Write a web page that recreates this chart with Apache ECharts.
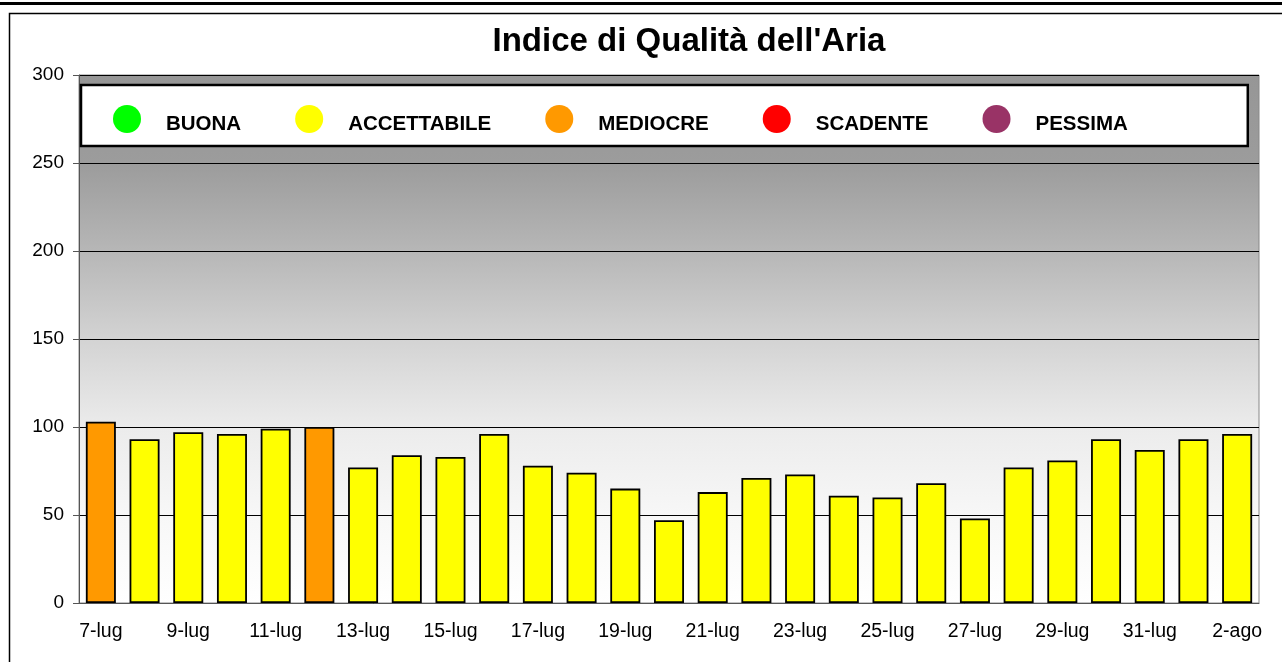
<!DOCTYPE html>
<html>
<head>
<meta charset="utf-8">
<script src="https://cdn.jsdelivr.net/npm/echarts@6/dist/echarts.min.js"></script>
<style>
html,body{margin:0;padding:0;background:#fff;}
#chart{width:1282px;height:662px;}
</style>
</head>
<body>
<div id="chart"></div>
<script>
const categories = ['7-lug','8-lug','9-lug','10-lug','11-lug','12-lug','13-lug','14-lug','15-lug','16-lug','17-lug','18-lug','19-lug','20-lug','21-lug','22-lug','23-lug','24-lug','25-lug','26-lug','27-lug','28-lug','29-lug','30-lug','31-lug','1-ago','2-ago'];
const values = [103, 93, 97, 96, 99, 100, 77, 84, 83, 96, 78, 74, 65, 47, 63, 71, 73, 61, 60, 68, 48, 77, 81, 93, 87, 93, 96];
const levels = ['MEDIOCRE','ACCETTABILE','ACCETTABILE','ACCETTABILE','ACCETTABILE','MEDIOCRE','ACCETTABILE','ACCETTABILE','ACCETTABILE','ACCETTABILE','ACCETTABILE','ACCETTABILE','ACCETTABILE','ACCETTABILE','ACCETTABILE','ACCETTABILE','ACCETTABILE','ACCETTABILE','ACCETTABILE','ACCETTABILE','ACCETTABILE','ACCETTABILE','ACCETTABILE','ACCETTABILE','ACCETTABILE','ACCETTABILE','ACCETTABILE'];
const levelNames = ['BUONA','ACCETTABILE','MEDIOCRE','SCADENTE','PESSIMA'];
const levelColors = ['#00FF00','#FFFF00','#FF9900','#FF0000','#993366'];
const yTicks = [0, 50, 100, 150, 200, 250, 300];
const title = "Indice di Qualità dell'Aria";

const chart = echarts.init(document.getElementById('chart'), null, {renderer: 'canvas'});
const series = levelNames.map((name, k) => ({
  name: name,
  type: 'bar',
  stack: 'iqa',
  barWidth: 30,
  itemStyle: {color: levelColors[k], borderColor: '#000', borderWidth: 1.8},
  data: values.map((v, i) => levels[i] === name ? v : '-')
}));

chart.setOption({
  animation: false,
  title: {
    text: title, left: 684, top: 20, textAlign: 'center',
    textStyle: {fontFamily: 'Liberation Sans, Arial, sans-serif', fontWeight: 'bold', fontSize: 33, color: '#000'}
  },
  legend: {
    data: levelNames,
    left: 81, top: 85,
    icon: 'circle',
    itemWidth: 28, itemHeight: 28,
    itemGap: 54,
    padding: [20, 120, 11, 32],
    backgroundColor: '#fff',
    borderColor: '#000', borderWidth: 2.5,
    itemStyle: {borderWidth: 0},
    selectedMode: false,
    formatter: name => '{t|' + name + '}',
    textStyle: {
      fontFamily: 'Liberation Sans, Arial, sans-serif', fontWeight: 'bold', fontSize: 20.5, color: '#000',
      rich: {t: {fontFamily: 'Liberation Sans, Arial, sans-serif', fontWeight: 'bold', fontSize: 20.5, color: '#000', padding: [11, 0, 0, 20]}}
    }
  },
  grid: {
    left: 79, right: 23, top: 75, bottom: 59,
    show: true,
    borderColor: '#888', borderWidth: 1,
    backgroundColor: {
      type: 'linear', x: 0, y: 0, x2: 0, y2: 1,
      colorStops: [
        {offset: 0, color: '#969696'},
        {offset: 0.17, color: '#9c9c9c'},
        {offset: 0.33, color: '#b6b6b6'},
        {offset: 0.5, color: '#d3d3d3'},
        {offset: 0.67, color: '#ececec'},
        {offset: 0.83, color: '#f7f7f7'},
        {offset: 1, color: '#ffffff'}
      ]
    }
  },
  xAxis: {
    type: 'category',
    data: categories,
    boundaryGap: true,
    axisLine: {lineStyle: {color: '#555', width: 1}},
    axisTick: {interval: 1, length: 5, lineStyle: {color: '#555'}},
    axisLabel: {interval: 1, margin: 19, color: '#000', fontSize: 19.5, fontFamily: 'Liberation Sans, Arial, sans-serif'}
  },
  yAxis: {
    type: 'value',
    min: yTicks[0], max: yTicks[yTicks.length - 1], interval: 50,
    axisLine: {show: true, lineStyle: {color: '#555', width: 1}},
    axisTick: {show: true, length: 6, lineStyle: {color: '#555'}},
    axisLabel: {margin: 15, color: '#000', fontSize: 19, fontFamily: 'Liberation Sans, Arial, sans-serif'},
    splitLine: {show: true, lineStyle: {color: '#000', width: 1}}
  },
  graphic: [
    {type: 'rect', shape: {x: -2, y: 2, width: 1290, height: 3}, style: {fill: '#000'}, silent: true, z: -1},
    {type: 'rect', shape: {x: 9.5, y: 13.5, width: 1290, height: 700}, style: {fill: 'none', stroke: '#000', lineWidth: 1.5}, silent: true, z: -1}
  ],
  series: series
});
</script>
</body>
</html>
